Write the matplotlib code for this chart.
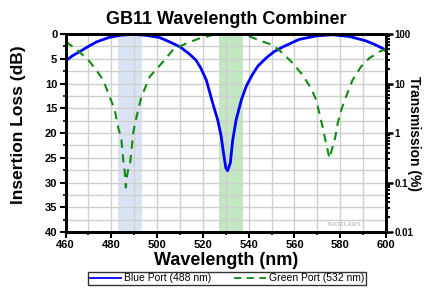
import matplotlib
matplotlib.use("Agg")
import matplotlib.pyplot as plt
from matplotlib.ticker import MultipleLocator, LogLocator, FixedLocator, NullFormatter

plt.rcParams['font.family'] = ['Liberation Sans', 'DejaVu Sans']

# Blue Port (488 nm) insertion loss
wl_blue = [460, 463, 466, 470, 473.5, 479, 484, 489.5, 495, 501, 505, 510, 514, 517, 519,
           521.5, 524, 526.5, 528, 529, 530, 530.8, 532, 533, 534.5, 536.8, 539, 541.5, 544,
           547.5, 551, 555, 562, 569.5, 576.5, 584, 591, 595, 598.5, 600]
il_blue = [5.45, 4.4, 3.6, 2.5, 1.6, 0.7, 0.25, 0.07, 0.27, 0.7, 1.5, 2.6, 4.0, 5.3, 6.8,
           9.3, 13.5, 17.4, 20.7, 24.0, 27.0, 27.6, 26.0, 21.5, 17.4, 13.3, 10.5, 8.3, 6.5,
           4.9, 3.6, 2.6, 1.1, 0.4, 0.15, 0.5, 1.35, 2.1, 2.9, 3.4]

# Green Port (532 nm) insertion loss
wl_green = [460, 464.8, 469.9, 473, 476.4, 479.3, 481.5, 482.9, 484.4, 485.2, 485.8, 486.3,
            486.9, 487.5, 488.2, 488.9, 489.5, 491, 493.1, 496.8, 502.6, 506.9, 512.8, 518.6,
            524.2, 530, 535, 538.8, 540.4, 546.2, 550.5, 554.9, 559.3, 563.6, 567.3, 569.5,
            570.9, 572.3, 573.5, 574.5, 575.3, 576.7, 577.9, 578.9, 580.4, 582.5, 585.4,
            589.1, 592.7, 597.1, 600]
il_green = [1.55, 3.1, 5.25, 7.0, 9.3, 12.7, 15.4, 18.7, 21.4, 25.5, 27.5, 31.0,
            28.5, 27.0, 26.0, 23.0, 20.1, 16.7, 12.7, 8.6, 5.6, 3.2, 1.9, 0.87,
            0.2, 0.05, 0.05, 0.1, 0.5, 1.55, 2.2, 3.9, 5.9, 8.3, 11.0, 13.3,
            16.0, 18.7, 21.4, 23.4, 25.1, 22.8, 20.7, 18.0, 15.4, 12.7, 9.3,
            6.6, 4.9, 3.6, 3.0]

blue_band = (483, 493.5)
green_band = (527, 537.5)
y_ticks = [0, 5, 10, 15, 20, 25, 30, 35, 40]
x_ticks = [460, 480, 500, 520, 540, 560, 580, 600]
t_ticks = [0.01, 0.1, 1, 10, 100]
t_labels = ['0.01', '0.1', '1', '10', '100']

fig = plt.figure(figsize=(4.26, 2.88), dpi=100)
ax = fig.add_axes([0.154, 0.194, 0.752, 0.688])

ax.axvspan(*blue_band, color='#dae3f3', zorder=0, lw=0)
ax.axvspan(*green_band, color='#c3e6c3', zorder=0, lw=0)

ax.plot(wl_blue, il_blue, color='#0000ff', lw=2.0, zorder=3, label='Blue Port (488 nm)')
ax.plot(wl_green, il_green, color='#118a11', lw=1.5, ls=(0, (4, 3)), zorder=3,
        label='Green Port (532 nm)')

ax.set_xlim(460, 600)
ax.set_ylim(40, 0)
ax.set_xticks(x_ticks)
ax.set_yticks(y_ticks)
ax.xaxis.set_minor_locator(MultipleLocator(10))
ax.yaxis.set_minor_locator(MultipleLocator(2.5))
ax.grid(True, which='both', color='#cfcfcf', lw=1.0, zorder=1)
ax.set_axisbelow(True)
ax.tick_params(which='major', direction='out', length=4, width=1.5, labelsize=8, pad=2)
ax.tick_params(which='minor', direction='out', length=2.5, width=1.2)
for lab in ax.get_xticklabels() + ax.get_yticklabels():
    lab.set_fontweight('bold')
for s in ax.spines.values():
    s.set_linewidth(2)

ax.set_xlabel('Wavelength (nm)', fontsize=13, fontweight='bold', labelpad=1)
ax.set_ylabel('Insertion Loss (dB)', fontsize=12.5, fontweight='bold')
ax.yaxis.set_label_coords(-0.125, 0.54)
ax.set_title('GB11 Wavelength Combiner', fontsize=13, fontweight='bold', pad=7)

ax.text(589.5, 38.5, 'THORLABS', fontsize=4.5, fontweight='bold', color='#c4c4c4',
        ha='right', va='center', zorder=2)

ax2 = ax.twinx()
ax2.set_yscale('log')
ax2.set_ylim(0.01, 100)
ax2.yaxis.set_major_locator(FixedLocator(t_ticks))
ax2.set_yticklabels(t_labels)
ax2.yaxis.set_minor_locator(LogLocator(base=10, subs=range(2, 10)))
ax2.yaxis.set_minor_formatter(NullFormatter())
ax2.tick_params(which='major', direction='out', length=5, width=1.8, labelsize=7, pad=1)
ax2.tick_params(which='minor', direction='out', length=3, width=1.5)
for lab in ax2.get_yticklabels():
    lab.set_fontweight('bold')
for s in ax2.spines.values():
    s.set_linewidth(2)
ax2.set_ylabel('Transmission (%)', fontsize=10, fontweight='bold', rotation=270)
ax2.yaxis.set_label_coords(1.109, 0.5)

h, l = ax.get_legend_handles_labels()
leg = fig.legend(h, l, loc='upper center', bbox_to_anchor=(0.533, 0.056), ncol=2,
                 fontsize=7.5, frameon=True, fancybox=False, edgecolor='black',
                 handlelength=3.0, columnspacing=2.2, borderpad=0.15, handletextpad=0.3,
                 borderaxespad=0)
leg.get_frame().set_linewidth(1.0)
for ln in leg.get_lines():
    ln.set_linewidth(1.3)

fig.savefig('out.png', dpi=100)
